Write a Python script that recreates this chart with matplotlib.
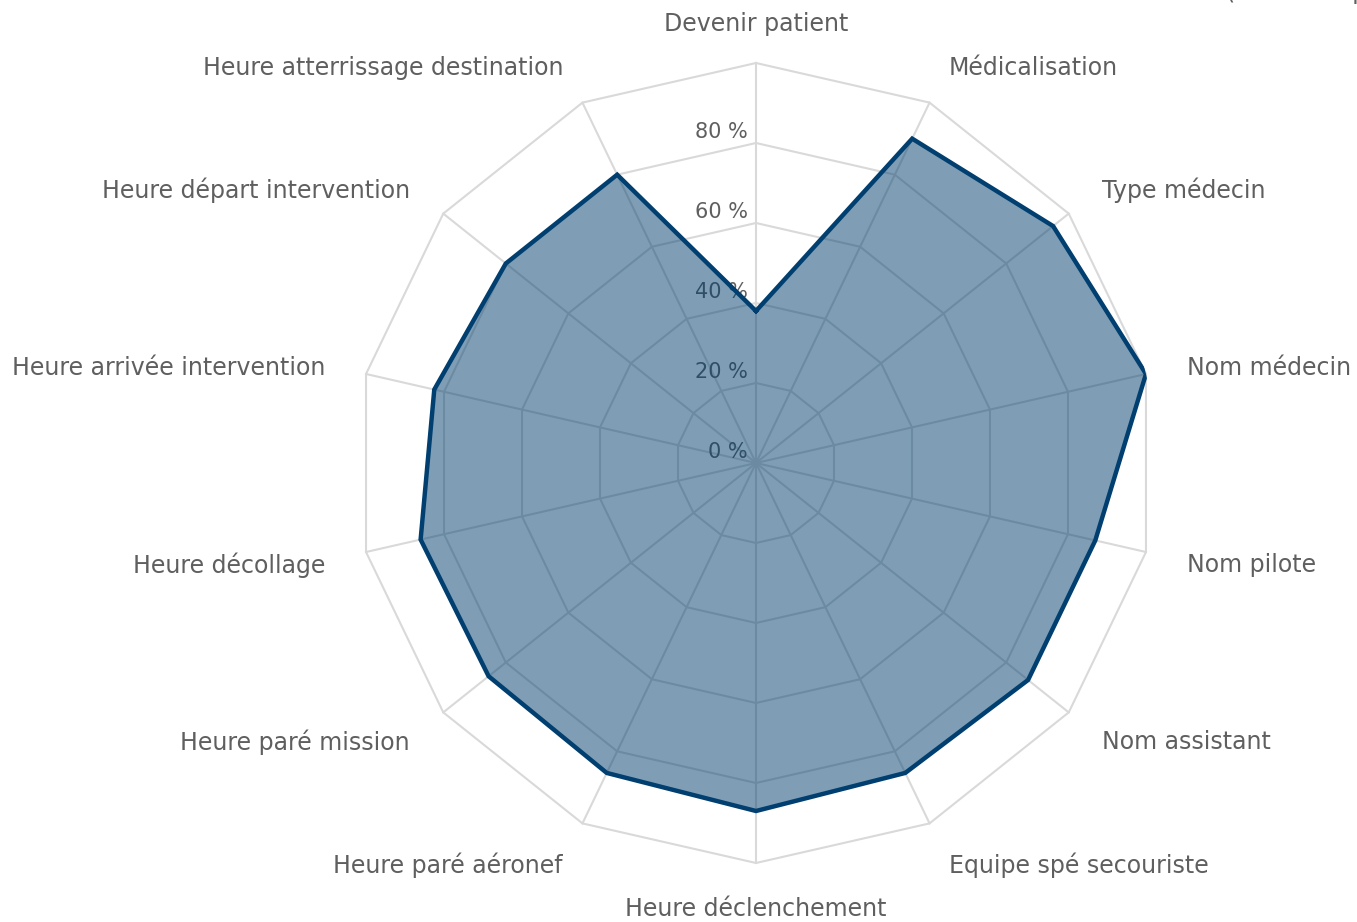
import numpy as np
import matplotlib
matplotlib.use("Agg")
import matplotlib.pyplot as plt

categories = ["Devenir patient", "Médicalisation", "Type médecin", "Nom médecin",
              "Nom pilote", "Nom assistant", "Equipe spé secouriste",
              "Heure déclenchement", "Heure paré aéronef", "Heure paré mission",
              "Heure décollage", "Heure arrivée intervention",
              "Heure départ intervention", "Heure atterrissage destination"]
values = [38, 90, 95, 100, 87, 87, 86, 87, 86, 85.5, 86, 82.5, 80, 80]
rticks = [0, 20, 40, 60, 80]
rtick_labels = ["0 %", "20 %", "40 %", "60 %", "80 %"]
rmax = 100

GRID = "#d9d9d9"
TXT = "#5f5f5f"
LINE = "#003f6f"

W, H = 1357, 922
fig = plt.figure(figsize=(W / 100, H / 100), dpi=100)
cx, cy, R = 756, 463, 400
ax = fig.add_axes([(cx - R) / W, (H - cy - R) / H, 2 * R / W, 2 * R / H], projection="polar")
ax.set_theta_offset(np.pi / 2)
ax.set_theta_direction(-1)
ax.set_ylim(0, rmax)
ax.grid(False)
ax.spines["polar"].set_visible(False)
ax.set_xticks([])
ax.set_yticks([])
ax.patch.set_alpha(0)

n = len(categories)
theta = np.arange(n) * 2 * np.pi / n
tc = np.append(theta, theta[0])

# polygonal grid
for lvl in rticks[1:] + [rmax]:
    ax.plot(tc, [lvl] * (n + 1), color=GRID, lw=1.5, zorder=1, clip_on=False)
for t in theta:
    ax.plot([t, t], [0, rmax], color=GRID, lw=1.5, zorder=1, clip_on=False)

# radial tick labels
for r, lab in zip(rticks, rtick_labels):
    ax.annotate(lab, xy=(0, r), xytext=(-6, 8), textcoords="offset points",
                ha="right", va="center", fontsize=15, color=TXT, zorder=2)

vc = np.append(values, values[0])
ax.fill(tc, vc, color=LINE, alpha=0.5, lw=0, zorder=3)
ax.plot(tc, vc, color=LINE, lw=3.2, zorder=4, solid_joinstyle="miter")

# category labels
for t, lab in zip(theta, categories):
    s = np.sin(t)
    c = np.cos(t)
    if abs(s) < 1e-6:
        ha = "center"
    elif s > 0:
        ha = "left"
    else:
        ha = "right"
    dy = -(3.5 - 2.5 * c)
    dx = 2 if s > 1e-6 else (-2 if s < -1e-6 else 0)
    ax.annotate(lab, xy=(t, 110), xytext=(dx, dy), textcoords="offset pixels",
                ha=ha, va="center", fontsize=17, color=TXT, annotation_clip=False)

fig.text(1226 / W, 1 + 1.5 / H, "(% de complétude)", ha="left", va="baseline",
         fontsize=17, color=TXT)

fig.savefig("out.png", dpi=100, facecolor="white")
